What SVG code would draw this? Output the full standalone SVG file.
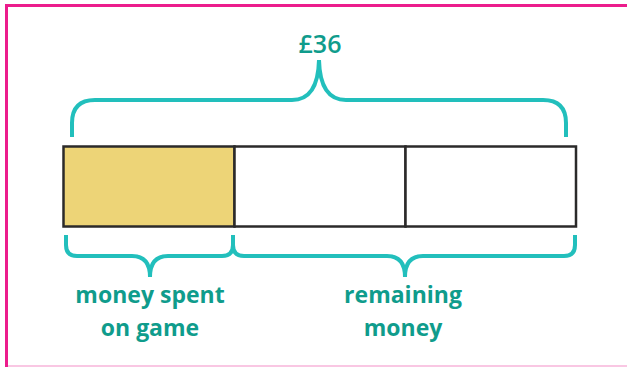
<svg xmlns="http://www.w3.org/2000/svg" width="627" height="367" viewBox="0 0 627 367">
<style>
.brace{fill:none;stroke:#22BFBC;stroke-width:4;stroke-linecap:butt;stroke-linejoin:round}
.lbl{font-family:"Open Sans","Liberation Sans",sans-serif;font-weight:700;font-size:23px;fill:#0F9C8C;text-anchor:middle}
.cell{stroke:#2B2A2A;stroke-width:2.5}
</style>
<rect x="0" y="0" width="627" height="367" fill="#ffffff"/>
<g id="frame">
<line x1="6.5" y1="5.5" x2="627" y2="5.5" stroke="#EC1C8C" stroke-width="3"/>
<line x1="6.5" y1="4" x2="6.5" y2="367" stroke="#EC1C8C" stroke-width="3"/>
<line x1="8" y1="366" x2="627" y2="366" stroke="#F7B5DA" stroke-width="1.5"/>
</g>
<g id="bar">
<g id="cell1"><rect class="cell" x="63.5" y="146.5" width="171" height="80" fill="#EDD477"/></g>
<g id="cell2"><rect class="cell" x="234.5" y="146.5" width="171" height="80" fill="#ffffff"/></g>
<g id="cell3"><rect class="cell" x="405.5" y="146.5" width="170.5" height="80" fill="#ffffff"/></g>
</g>
<g id="connectors">
<path class="brace" d="M72,137 V123 Q72,100 95,100 H292 Q318,100 319,60 M566,137 V123 Q566,100 543,100 H346 Q320,100 319,60"/>
<path class="brace" d="M66,235 V245 Q66,256 77,256 H132 Q150,256 150,277 M233,235 V245 Q233,256 222,256 H168 Q150,256 150,277"/>
<path class="brace" d="M233,235 V245 Q233,256 244,256 H387 Q405,256 405,277 M575,235 V245 Q575,256 564,256 H423 Q405,256 405,277"/>
</g>
<g id="total"><text class="lbl" x="320" y="53" style="font-size:25px;font-weight:600">£36</text></g>
<g id="spent"><text class="lbl" x="150" y="303">money spent</text><text class="lbl" x="150" y="336">on game</text></g>
<g id="remaining"><text class="lbl" x="403" y="303">remaining</text><text class="lbl" x="403" y="336">money</text></g>
</svg>
